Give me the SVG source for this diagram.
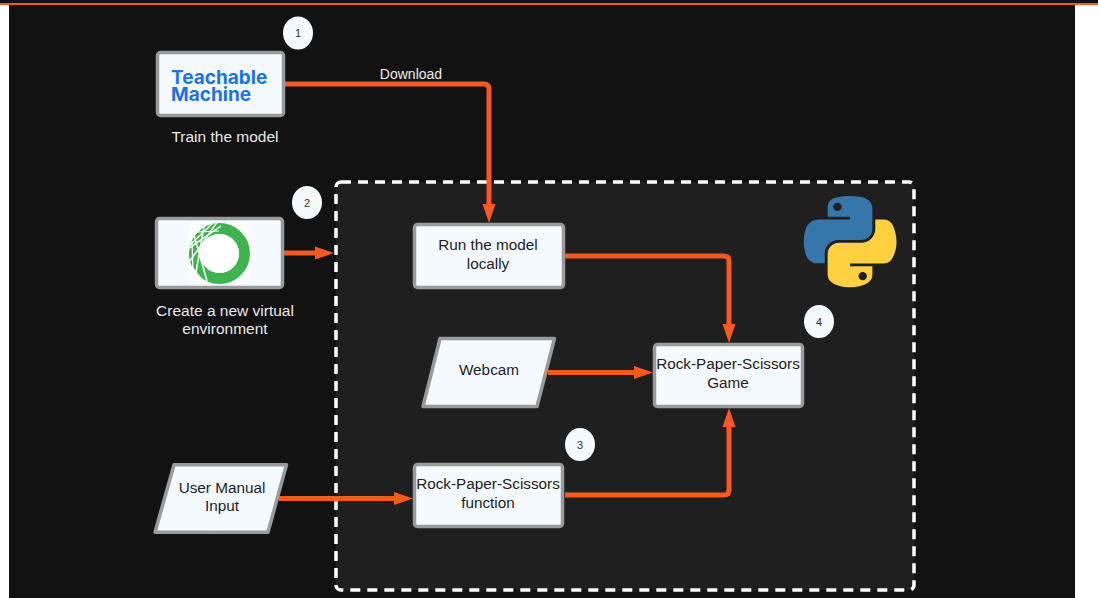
<svg xmlns="http://www.w3.org/2000/svg" width="1098" height="598" viewBox="0 0 1098 598">
<style>
.n{fill:#f5faff;stroke:#9a9a9a;stroke-width:3.500;stroke-linejoin:round}
.t{font-family:"Liberation Sans",Arial,sans-serif;font-size:15.300px;text-anchor:middle;fill:#1d1d1f}
.w{font-family:"Liberation Sans",Arial,sans-serif;font-size:15.500px;text-anchor:middle;fill:#e8e8e8}
.c{fill:#f5faff}
.d{font-family:"Liberation Sans",Arial,sans-serif;font-size:11px;text-anchor:middle;fill:#333}
.e{fill:none;stroke:#f55a22;stroke-width:5}
.tm{font-family:"Inter","Liberation Sans",sans-serif;font-size:19px;font-weight:700;fill:#1a73e8}
</style>
<defs>
<marker id="a" markerUnits="userSpaceOnUse" markerWidth="20" markerHeight="14" refX="9" refY="7" orient="auto"><path d="M0,0.500 L19,7 L0,13.500Z" fill="#f55a22"/></marker>
</defs>
<rect width="1098" height="598" fill="#fff"/>
<rect x="9" y="0" width="1066" height="598" fill="#121212"/>
<rect x="0" y="0" width="1098" height="3" fill="#121212"/>
<rect x="0" y="3" width="1098" height="2" fill="#f55a22"/>
<g id="container"><rect x="336" y="182" width="578" height="408" rx="5" fill="#1f1f1f" stroke="#fff" stroke-width="3.500" stroke-dasharray="10 7"/></g>
<g id="connectors">
<path class="e" marker-end="url(#a)" d="M285,84 H484 Q489,84 489,89 V213"/>
<path class="e" marker-end="url(#a)" d="M284,253 H324"/>
<path class="e" marker-end="url(#a)" d="M565,256 H724 Q729,256 729,261 V333"/>
<path class="e" marker-end="url(#a)" d="M548,372.500 H643"/>
<path class="e" marker-end="url(#a)" d="M279,498.500 H403"/>
<path class="e" marker-end="url(#a)" d="M565,495 H724 Q729,495 729,490 V418"/>
<text x="411" y="79" font-family="'Liberation Sans',Arial,sans-serif" font-size="14" text-anchor="middle" fill="#ececec">Download</text>
</g>
<g id="teachable">
<rect class="n" x="157.500" y="52.500" width="126" height="63" rx="3"/>
<text class="tm"><tspan x="171" y="84">Teachable</tspan><tspan x="171" y="101">Machine</tspan></text>
<text class="w" x="225" y="142">Train the model</text>
</g>
<g id="step1"><ellipse class="c" cx="298" cy="33" rx="15" ry="16.500"/><text class="d" x="298" y="37">1</text></g>
<g id="anaconda">
<rect class="n" x="156.500" y="218.500" width="126" height="69" rx="3"/>
<rect x="189" y="223" width="61" height="61" fill="#fff"/>
<circle cx="219.500" cy="253.500" r="25" fill="none" stroke="#3fb34f" stroke-width="11"/>
<path d="M207,281 L194.100,235.700 M195.800,273.400 L204,226.600 M189.600,261.500 L216.800,222.600 M189,248.100 L221,226" stroke="#fff" stroke-width="1.500" fill="none"/>
<path d="M203,281 L189,263 M193,272 L192,241 M190,245 L213,223 M197,232 L219,231" stroke="#fff" stroke-width="1.200" fill="none"/>
<circle cx="219.500" cy="253.500" r="19.500" fill="#fff"/>
<text class="w" x="225" y="316">Create a new virtual</text>
<text class="w" x="225" y="334">environment</text>
</g>
<g id="step2"><ellipse class="c" cx="307" cy="202.500" rx="15" ry="16.500"/><text class="d" x="307" y="207">2</text></g>
<g id="python" transform="translate(804,196) scale(0.83,0.806)">
<path fill="#3776ab" fill-rule="evenodd" d="M54.900,0 C50.300,0 45.900,0.400 42,1.100 C30.600,3.100 28.500,7.400 28.500,15.200 V25.600 H55.500 V29.100 H18.300 C10.500,29.100 3.600,33.800 1.500,42.800 C-0.900,53 -1,59.400 1.500,70 C3.400,77.900 7.900,83.500 15.800,83.500 H25 V71.300 C25,62.400 32.700,54.600 41.900,54.600 H68.900 C76.400,54.600 82.400,48.400 82.400,40.900 V15.200 C82.400,7.900 76.200,2.400 68.900,1.100 C64.300,0.300 59.500,0 54.900,0 Z M40.300,8.300 a5.100,5.100 0 1 1 0,10.200 a5.100,5.100 0 1 1 0,-10.200 Z"/>
<path fill="#ffd03f" fill-rule="evenodd" d="M85.900,29.100 V41 C85.900,50.300 78.100,58.100 69.100,58.100 H42 C34.600,58.100 28.500,64.500 28.500,71.900 V97.600 C28.500,104.900 34.900,109.200 42,111.300 C50.500,113.800 58.700,114.200 68.900,111.300 C75.700,109.300 82.400,105.400 82.400,97.600 V87.300 H55.500 V83.800 H95.900 C103.700,83.800 106.700,78.300 109.400,70 C112.200,61.500 112.100,53.300 109.400,42.800 C107.500,35.200 103.800,29.100 95.900,29.100 Z M70.700,94.200 a5.100,5.100 0 1 1 0,10.200 a5.100,5.100 0 1 1 0,-10.200 Z"/>
</g>
<g id="run"><rect class="n" x="414.500" y="224.500" width="149" height="63" rx="3"/><text class="t" x="488" y="250">Run the model</text><text class="t" x="488" y="269">locally</text></g>
<g id="webcam"><path class="n" d="M440,338.500 H554.500 L537,406.500 H423 Z"/><text class="t" x="489" y="375">Webcam</text></g>
<g id="game"><rect class="n" x="654.500" y="344.500" width="148" height="62" rx="3"/><text class="t" x="728" y="369">Rock-Paper-Scissors</text><text class="t" x="728" y="388">Game</text></g>
<g id="step3"><ellipse class="c" cx="580" cy="444.500" rx="15" ry="16.500"/><text class="d" x="580" y="449">3</text></g>
<g id="step4"><ellipse class="c" cx="819" cy="321.500" rx="15" ry="16.500"/><text class="d" x="819" y="326">4</text></g>
<g id="input"><path class="n" d="M174,464.800 H286.500 L268,532.200 H155 Z"/><text class="t" x="222" y="493">User Manual</text><text class="t" x="222" y="511">Input</text></g>
<g id="function"><rect class="n" x="414.500" y="464.500" width="148" height="62" rx="3"/><text class="t" x="488" y="489">Rock-Paper-Scissors</text><text class="t" x="488" y="508">function</text></g>
</svg>
